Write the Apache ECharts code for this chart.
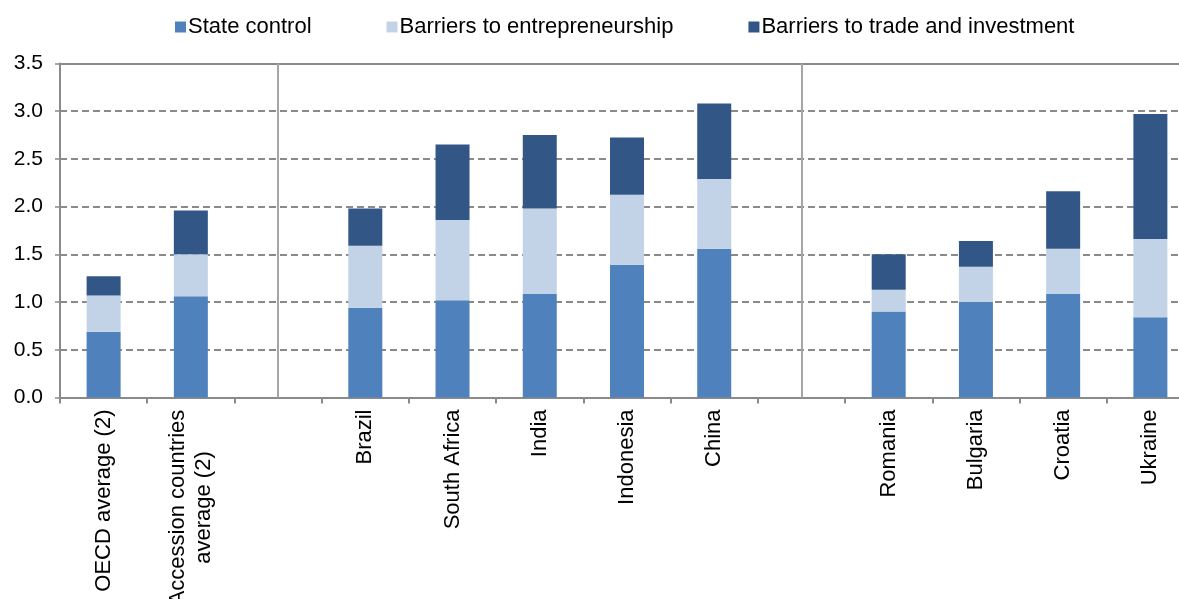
<!DOCTYPE html>
<html>
<head>
<meta charset="utf-8">
<script src="https://cdn.jsdelivr.net/npm/echarts@6/dist/echarts.min.js"></script>
<style>
  html, body { margin: 0; padding: 0; background: #fff; }
  #chart { width: 1179px; height: 599px; }
</style>
</head>
<body>
<div id="chart"></div>
<script>
// Product market regulation indicators, by component
const categories = [
  'OECD average (2)', 'Accession countries\naverage (2)', '',
  'Brazil', 'South Africa', 'India', 'Indonesia', 'China', ' ',
  'Romania', 'Bulgaria', 'Croatia', 'Ukraine'
];
const stateControl      = [0.69, 1.06, null, 0.94, 1.02, 1.085, 1.39, 1.56, null, 0.90, 1.00, 1.085, 0.84];
const entrepreneurship  = [0.38, 0.44, null, 0.65, 0.84, 0.895, 0.735, 0.73, null, 0.23, 0.37, 0.475, 0.82];
const tradeInvestment   = [0.20, 0.46, null, 0.39, 0.79, 0.77, 0.60, 0.79, null, 0.37, 0.27, 0.60, 1.31];
const seriesNames = ['State control', 'Barriers to entrepreneurship', 'Barriers to trade and investment'];
const yTicks = { min: 0, max: 3.5, step: 0.5 };
// empty slots that separate the country groups
const groupSeparators = [2, 8];

const FONT = '"Liberation Sans", Arial, sans-serif';
const AXIS_GREY = '#8a8a8a';

const chart = echarts.init(document.getElementById('chart'), null, { renderer: 'canvas' });

function bar(name, data, color, extra) {
  return Object.assign({
    name, type: 'bar', stack: 'pmr', data,
    barWidth: 34,
    itemStyle: { color },
    emphasis: { disabled: true }
  }, extra || {});
}

chart.setOption({
  animation: false,
  textStyle: { fontFamily: FONT },
  legend: {
    top: 11, left: 170,
    itemWidth: 11, itemHeight: 11, itemGap: 75,
    icon: 'rect',
    textStyle: { fontFamily: FONT, fontSize: 22, color: '#000', padding: [0, 0, 0, -3] },
    data: seriesNames
  },
  grid: { left: 60, top: 63.5, width: 1134, bottom: 201.5, containLabel: false, outerBoundsMode: 'none' },
  xAxis: [{
    type: 'category', data: categories,
    axisLine: { lineStyle: { color: AXIS_GREY, width: 2 } },
    axisTick: { show: true, length: 6, lineStyle: { color: AXIS_GREY, width: 2 } },
    axisLabel: {
      rotate: 90, margin: 12, interval: 0,
      fontFamily: FONT, fontSize: 22, color: '#000', lineHeight: 26,
      formatter: (v) => v.indexOf('\n') >= 0
        ? v.split('\n').map(s => '{c|' + s + '}').join('\n')
        : v,
      rich: { c: { width: 196, align: 'center', fontFamily: FONT, fontSize: 22, color: '#000', lineHeight: 26 } }
    }
  }, {
    type: 'category', data: categories, position: 'top',
    axisLine: { lineStyle: { color: AXIS_GREY, width: 2 } },
    axisTick: { show: false }, axisLabel: { show: false }
  }],
  yAxis: {
    type: 'value', min: yTicks.min, max: yTicks.max, interval: yTicks.step,
    axisLine: { show: true, lineStyle: { color: AXIS_GREY, width: 2 } },
    axisTick: { show: true, length: 5, lineStyle: { color: AXIS_GREY, width: 1.5 } },
    axisLabel: { fontFamily: FONT, fontSize: 21, color: '#000', margin: 17,
      formatter: (v) => v.toFixed(1) },
    splitLine: { show: true, lineStyle: { color: AXIS_GREY, width: 2, type: [7, 4] } }
  },
  series: [
    bar(seriesNames[0], stateControl, '#4F81BD', {
      markLine: {
        silent: true, symbol: 'none', label: { show: false },
        lineStyle: { color: '#a6a6a6', type: 'solid', width: 2 },
        data: groupSeparators.map(i => ({ xAxis: i }))
      }
    }),
    bar(seriesNames[1], entrepreneurship, '#C2D3E8'),
    bar(seriesNames[2], tradeInvestment, '#325786')
  ]
});
</script>
</body>
</html>
